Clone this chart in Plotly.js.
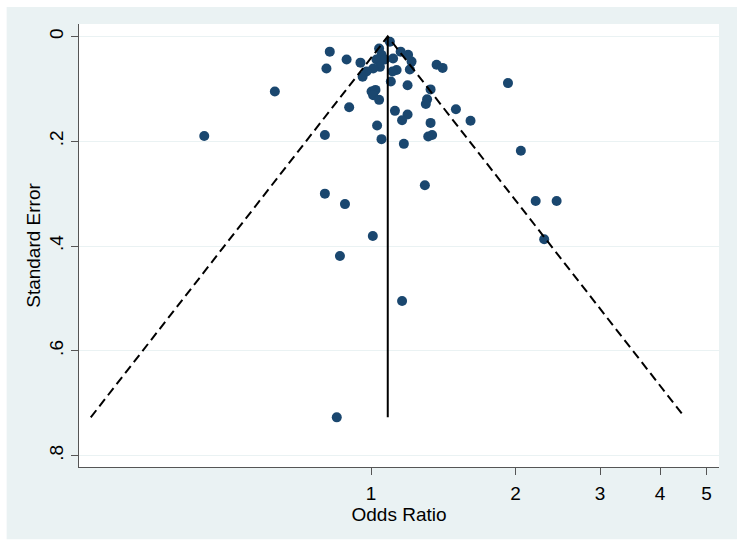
<!DOCTYPE html>
<html>
<head>
<meta charset="utf-8">
<script src="https://cdn.plot.ly/plotly-3.0.1.min.js"></script>
<style>
	html, body { margin: 0; padding: 0; background: #ffffff; }
	#funnel-viz { width: 744px; height: 546px; }
</style>
</head>
<body>
<div id="funnel-viz"></div>
<script>
// Study estimates: odds ratio and its standard error
var odds_ratio = [
	0.820, 0.889, 0.807, 0.950, 1.039, 1.094, 1.051, 1.026, 1.068, 1.111,
	1.152, 1.194, 1.214, 1.369, 1.409, 1.204, 1.130, 1.108, 1.043, 1.010,
	0.978, 0.960, 1.099, 1.191, 1.330, 0.630, 1.002, 1.021, 1.010, 1.039,
	1.308, 1.300, 0.900, 1.502, 1.121, 1.191, 1.160, 1.330, 1.611, 1.029,
	0.801, 1.315, 1.340, 1.051, 1.170, 1.294, 0.801, 0.882, 1.008, 0.861,
	2.202, 2.435, 2.294, 1.160, 0.848, 1.928, 2.051, 0.449
];
var std_err = [
	0.029, 0.044, 0.061, 0.050, 0.023, 0.010, 0.035, 0.044, 0.044, 0.042,
	0.029, 0.035, 0.048, 0.054, 0.060, 0.063, 0.064, 0.067, 0.058, 0.061,
	0.067, 0.077, 0.086, 0.093, 0.101, 0.105, 0.105, 0.102, 0.112, 0.121,
	0.120, 0.129, 0.135, 0.139, 0.142, 0.149, 0.160, 0.165, 0.161, 0.170,
	0.188, 0.191, 0.188, 0.196, 0.205, 0.284, 0.300, 0.320, 0.381, 0.419,
	0.314, 0.314, 0.387, 0.505, 0.727, 0.089, 0.218, 0.190
];

// Pooled (fixed-effect) odds ratio, drawn as the vertical line
var pooled_or = 1.083;

var x_ticks = [1, 2, 3, 4, 5];
var x_tick_labels = ['1', '2', '3', '4', '5'];
var y_ticks = [0, 0.2, 0.4, 0.6, 0.8];
var y_tick_labels = ['0', '.2', '.4', '.6', '.8'];

function funnel_viz() {
	var max_se = Math.max.apply(null, std_err);
	var log_pooled = Math.log(pooled_or);

	// 95% pseudo confidence limits
	var trace_limits = {
		x: [Math.exp(log_pooled - 1.96 * max_se), pooled_or, Math.exp(log_pooled + 1.96 * max_se)],
		y: [max_se, 0, max_se],
		type: 'scatter',
		mode: 'lines',
		hoverinfo: 'none',
		line: { color: '#000000', width: 2, dash: '9px,5px' }
	};

	var trace_pooled = {
		x: [pooled_or, pooled_or],
		y: [0, max_se],
		type: 'scatter',
		mode: 'lines',
		hoverinfo: 'none',
		line: { color: '#000000', width: 2 }
	};

	var trace_studies = {
		x: odds_ratio,
		y: std_err,
		type: 'scatter',
		mode: 'markers',
		marker: { color: '#1a476f', size: 10 }
	};

	var data = [trace_studies, trace_limits, trace_pooled];

	var axis_font = { family: 'Liberation Sans, Arial, sans-serif', size: 19, color: '#000000' };

	var layout = {
		width: 744,
		height: 546,
		showlegend: false,
		paper_bgcolor: '#eaf2f3',
		plot_bgcolor: '#ffffff',
		font: axis_font,
		margin: { l: 79, r: 25, t: 24, b: 79 },
		xaxis: {
			type: 'log',
			range: [-0.6087, 0.7248],
			tickvals: x_ticks,
			ticktext: x_tick_labels,
			ticks: 'outside',
			ticklen: 7,
			tickcolor: '#555555',
			showline: true,
			linecolor: '#555555',
			linewidth: 1,
			showgrid: false,
			zeroline: false,
			tickfont: axis_font,
			ticklabelstandoff: 2,
			title: { text: 'Odds Ratio', font: axis_font, standoff: 0 }
		},
		yaxis: {
			range: [0.8218, -0.0238],
			tickvals: y_ticks,
			ticktext: y_tick_labels,
			tickangle: -90,
			ticks: 'outside',
			ticklen: 7,
			tickcolor: '#555555',
			showline: true,
			linecolor: '#555555',
			linewidth: 1,
			showgrid: true,
			gridcolor: '#eaf2f3',
			gridwidth: 1,
			zeroline: false,
			tickfont: axis_font,
			title: { text: 'Standard Error', font: axis_font, standoff: 0 }
		},
		// white outer frame round the graph region
		shapes: [{
			type: 'rect',
			xref: 'paper', yref: 'paper',
			x0: -0.124, x1: 1.039, y0: -0.179, y1: 1.054,
			fillcolor: 'rgba(0,0,0,0)',
			line: { color: '#ffffff', width: 14 },
			layer: 'above'
		}]
	};

	Plotly.newPlot('funnel-viz', data, layout, { staticPlot: true });
} // funnel_viz

funnel_viz();
</script>
</body>
</html>
